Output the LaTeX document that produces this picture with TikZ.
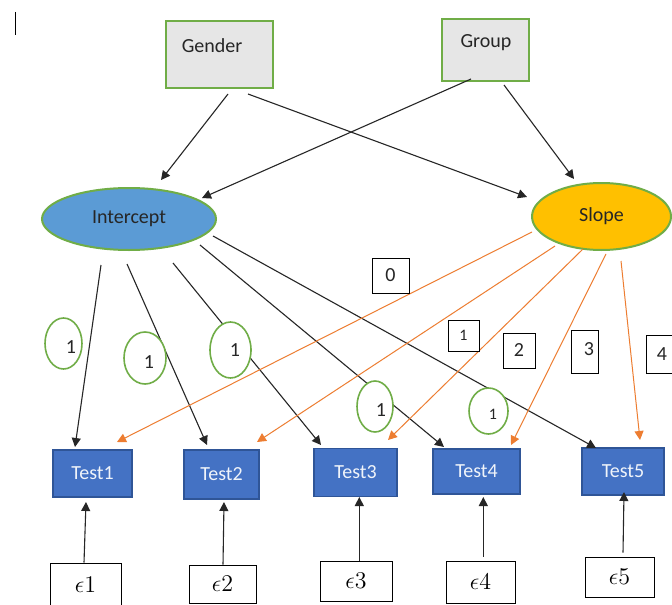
\documentclass[tikz,border=0pt]{standalone}
\usepackage{fontspec}
\setmainfont{Carlito}
\usetikzlibrary{shapes.geometric,arrows.meta,calc}
\definecolor{gborder}{HTML}{70AD47}
\definecolor{gfill}{HTML}{E6E6E6}
\definecolor{iblue}{HTML}{5B9BD5}
\definecolor{syellow}{HTML}{FFC000}
\definecolor{tblue}{HTML}{4472C4}
\definecolor{tborder}{HTML}{2F5597}
\definecolor{orng}{HTML}{ED7D31}
\definecolor{txt}{HTML}{262626}
\tikzset{
  covbox/.style={rectangle, draw=gborder, fill=gfill, line width=1pt, inner sep=0pt},
  latent/.style={ellipse, draw=gborder, line width=1pt, inner sep=0pt, text=txt, font=\fontsize{10}{12}\selectfont},
  testbox/.style={rectangle, draw=tborder, fill=tblue, line width=0.8pt, inner sep=0pt, text=white!92!tblue, font=\fontsize{10}{12}\selectfont},
  errbox/.style={rectangle, draw=black, fill=white, line width=0.5pt, inner sep=0pt, font=\fontsize{11.5}{13}\selectfont},
  loadell/.style={ellipse, draw=gborder, fill=white, line width=0.8pt, inner sep=0pt},
  numbox/.style={rectangle, draw=black, fill=white, line width=0.5pt, inner sep=0pt, text=txt, font=\fontsize{10}{12}\selectfont},
  lbl/.style={text=txt, font=\fontsize{10}{12}\selectfont},
  blkarrow/.style={draw=black!85, line width=0.55pt, -{Triangle[length=4.5pt,width=4.5pt]}},
  orgarrow/.style={draw=orng, line width=0.5pt, -{Triangle[length=4.5pt,width=4.5pt]}},
}
\begin{document}
\begin{tikzpicture}[x=0.5pt,y=-0.5pt]
\clip (0,0) rectangle (672,604);
\fill[white] (0,0) rectangle (672,604);
% cursor mark
\draw[line width=0.5pt] (15,12) -- (15,35);

% exogenous boxes
\node[covbox, minimum width=53.5pt, minimum height=33.5pt,
  label={[lbl,xshift=-3.75pt,yshift=4.25pt]center:Gender}] (gender) at (219.5,54.5) {};
\node[covbox, minimum width=43.5pt, minimum height=31pt,
  label={[lbl,xshift=0.25pt,yshift=3.5pt]center:Group}] (group) at (485.5,50) {};

% latent
\node[latent, fill=iblue, minimum width=87pt, minimum height=31pt] (icpt) at (129,219) {Intercept};
\node[latent, fill=syellow, minimum width=69.5pt, minimum height=33.5pt] (slope) at (601.5,216.5) {Slope};

% tests
\node[testbox, minimum width=39.5pt, minimum height=23.5pt] (t1) at (92.5,473.5) {Test1};
\node[testbox, minimum width=37.5pt, minimum height=24.5pt] (t2) at (221.5,474.5) {Test2};
\node[testbox, minimum width=41.5pt, minimum height=24pt] (t3) at (355.5,472.5) {Test3};
\node[testbox, minimum width=43.5pt, minimum height=22.5pt] (t4) at (476.5,471.5) {Test4};
\node[testbox, minimum width=41pt, minimum height=23.5pt] (t5) at (623,471.5) {Test5};

% errors
\node[errbox, minimum width=35.5pt, minimum height=21.5pt] (e1) at (85.5,584.5) {$\epsilon1$};
\node[errbox, minimum width=33.5pt, minimum height=19pt] (e2) at (222.5,584) {$\epsilon2$};
\node[errbox, minimum width=36pt, minimum height=20pt] (e3) at (356,581) {$\epsilon3$};
\node[errbox, minimum width=34.5pt, minimum height=21pt] (e4) at (480.5,582) {$\epsilon4$};
\node[errbox, minimum width=34.5pt, minimum height=20pt] (e5) at (619.5,577) {$\epsilon5$};

% regressions on growth factors
\draw[blkarrow] ($(gender.center)+(8.5,39.5)$) -- ($(icpt.center)+(32,-39)$);
\draw[blkarrow] ($(gender.center)+(28.5,39.5)$) -- ($(slope.center)+(-74.5,-19.5)$);
\draw[blkarrow] ($(group.center)+(-14.5,29)$) -- ($(icpt.center)+(73,-21)$);
\draw[blkarrow] ($(group.center)+(18.5,35)$) -- ($(slope.center)+(-27.5,-37.5)$);

% intercept loadings
\draw[blkarrow] ($(icpt.center)+(-28,46)$) -- ($(t1.center)+(-17.5,-26.5)$);
\draw[blkarrow] ($(icpt.center)+(-2,45)$) -- ($(t2.center)+(-14.5,-29.5)$);
\draw[blkarrow] ($(icpt.center)+(44,44)$) -- ($(t3.center)+(-34.5,-27.5)$);
\draw[blkarrow] ($(icpt.center)+(71,26)$) -- ($(t4.center)+(-32.5,-24.5)$);
\draw[blkarrow] ($(icpt.center)+(84,17)$) -- ($(t5.center)+(-27,-23.5)$);

% slope loadings
\draw[orgarrow] ($(slope.center)+(-69.5,15.5)$) -- ($(t1.center)+(24.5,-31.5)$);
\draw[orgarrow] ($(slope.center)+(-46.5,29.5)$) -- ($(t2.center)+(35.5,-32.5)$);
\draw[orgarrow] ($(slope.center)+(-18.5,32.5)$) -- ($(t3.center)+(32.5,-32.5)$);
\draw[orgarrow] ($(slope.center)+(4.5,37.5)$) -- ($(t4.center)+(34.5,-26.5)$);
\draw[orgarrow] ($(slope.center)+(19.5,44.5)$) -- ($(t5.center)+(17,-31.5)$);

% errors to tests
\draw[blkarrow] ($(e1.north)+(-1.5,0)$) -- ($(t1.center)+(-6.5,28.5)$);
\draw[blkarrow] ($(e2.north)+(0.5,0)$) -- ($(t2.center)+(2.5,27.5)$);
\draw[blkarrow] ($(e3.north)+(3.3,0)$) -- ($(t3.center)+(3.8,24.5)$);
\draw[blkarrow] ($(e4.north)+(2.8,-4)$) -- ($(t4.center)+(6.8,25.5)$);
\draw[blkarrow] ($(e5.north)+(3.5,-4)$) -- ($(t5.center)+(1,20.5)$);

% loading labels (intercept)
\node[loadell, minimum width=18.5pt, minimum height=25.5pt,
  label={[lbl,xshift=3.75pt,yshift=-1.75pt]center:1}] (l1) at (63.5,343.5) {};
\node[loadell, minimum width=21pt, minimum height=26pt,
  label={[lbl,xshift=2pt,yshift=-2pt]center:1}] (l2) at (145,358) {};
\node[loadell, minimum width=20.5pt, minimum height=28pt,
  label={[lbl,xshift=2.25pt]center:1}] (l3) at (230.5,350) {};
\node[loadell, minimum width=18pt, minimum height=25.5pt,
  label={[lbl,xshift=3pt,yshift=-1.75pt]center:1}] (l4) at (375,406.5) {};
\node[loadell, minimum width=19.5pt, minimum height=23pt,
  label={[lbl,font=\fontsize{8}{10}\selectfont,xshift=2.25pt,yshift=-1.5pt]center:1}] (l5) at (488.5,411) {};

% loading labels (slope)
\node[numbox, minimum width=18.5pt, minimum height=17.5pt] (s0) at (390.5,275.5) {0};
\node[numbox, minimum width=15.5pt, minimum height=15.5pt, font=\fontsize{8}{10}\selectfont] (s1) at (463.5,335.5) {1};
\node[numbox, minimum width=16pt, minimum height=17.5pt] (s2) at (519,350.5) {2};
\node[numbox, minimum width=13.5pt, minimum height=21.5pt,
  label={[lbl,xshift=2.25pt,yshift=1.25pt]center:3}] (s3) at (584.5,351.5) {};
\node[numbox, minimum width=16pt, minimum height=19pt] (s4) at (662,354) {4};
\end{tikzpicture}
\end{document}
